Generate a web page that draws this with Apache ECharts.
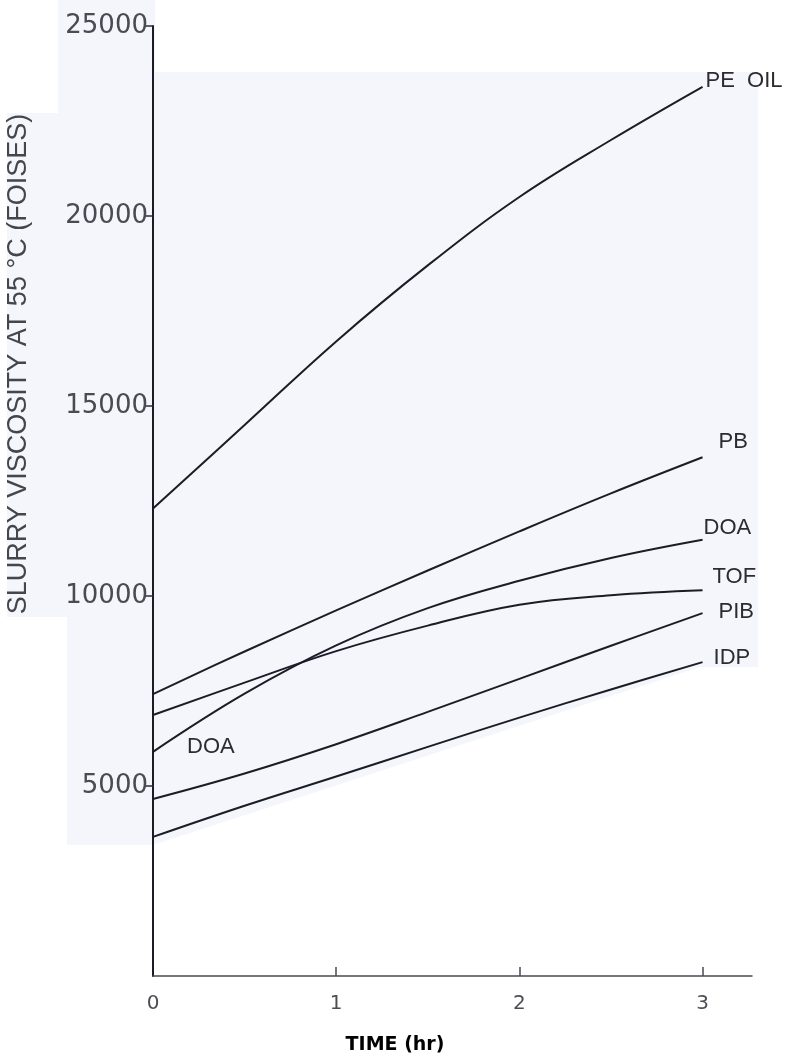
<!DOCTYPE html>
<html>
<head>
<meta charset="utf-8">
<script src="https://cdn.jsdelivr.net/npm/echarts@6/dist/echarts.min.js"></script>
<style>
  html, body { margin: 0; padding: 0; background: #ffffff; }
  #chart { width: 792px; height: 1060px; }
</style>
</head>
<body>
<div id="chart"></div>
<script>
// ---- data ----
const times = [0, 0.5, 1, 1.5, 2, 2.5, 3];
const peOil = [12300, 14500, 16700, 18700, 20500, 22000, 23400];
const pb    = [7420, 8540, 9620, 10670, 11700, 12700, 13650];
const doa   = [5900, 7430, 8700, 9680, 10400, 11000, 11480];
const tof   = [6870, 7720, 8550, 9220, 9770, 10020, 10150];
const pib   = [4660, 5330, 6100, 6950, 7820, 8690, 9550];
const idp   = [3660, 4480, 5250, 6030, 6800, 7540, 8260];
const seriesNames = ['PE  OIL', 'PB', 'DOA', 'TOF', 'PIB', 'IDP'];
const seriesValues = [peOil, pb, doa, tof, pib, idp];
const yTickValues = [5000, 10000, 15000, 20000, 25000];
const xLabelValues = [0, 1, 2, 3];
const xTickValues = [1, 2, 3];
const yTitle = 'SLURRY VISCOSITY AT 55 \u00B0C (FOISES)';
const xTitle = 'TIME (hr)';
const innerLabel = 'DOA';

// label placement (styling only)
const labelOffsets = [[3, -6], [16, -15], [1, -12], [10, -13], [16, -1], [11, -4]];

const lineColor = '#1c1c26';

const series = seriesNames.map((name, si) => ({
  name: name,
  type: 'line',
  smooth: 0.4,
  symbol: 'none',
  lineStyle: { color: lineColor, width: 2 },
  endLabel: {
    show: true,
    distance: 0,
    offset: labelOffsets[si],
    formatter: name,
    fontFamily: 'Liberation Sans',
    fontSize: 22,
    color: '#2c2c30'
  },
  data: times.map((t, i) => [t, seriesValues[si][i]]),
  z: 3
}));

const chart = echarts.init(document.getElementById('chart'), null, { renderer: 'canvas' });
chart.setOption({
  animation: false,
  backgroundColor: '#ffffff',
  grid: { left: 153, top: 26, width: 599, height: 950, containLabel: false },
  xAxis: {
    type: 'value',
    min: 0,
    max: 3.27,
    interval: 1,
    axisLine: { show: true, onZero: false, lineStyle: { color: '#4a4a52', width: 1.5 } },
    axisTick: { show: true, inside: true, length: 9, customValues: xTickValues, lineStyle: { color: '#4a4a52', width: 1.5 } },
    axisLabel: { show: true, customValues: xLabelValues, margin: 18, fontFamily: 'DejaVu Sans', fontSize: 20, color: '#4d4d55' },
    splitLine: { show: false }
  },
  yAxis: {
    type: 'value',
    min: 0,
    max: 25000,
    interval: 5000,
    axisLine: { show: true, onZero: false, lineStyle: { color: '#1c1c26', width: 2 } },
    axisTick: { show: true, inside: false, length: 9, customValues: yTickValues, lineStyle: { color: '#2c2c34', width: 1.5 } },
    axisLabel: {
      show: true, customValues: yTickValues, margin: 5,
      formatter: (v) => String(v),
      fontFamily: 'DejaVu Sans', fontSize: 26, color: '#4a4a52', padding: [0, 0, 12, 0]
    },
    splitLine: { show: false }
  },
  graphic: [
    {
      type: 'polygon',
      z: -10,
      silent: true,
      shape: { points: [[58, 0], [155, 0], [155, 72], [758, 72], [758, 667], [700, 667], [153, 845], [67, 845], [67, 617], [7, 617], [7, 113], [58, 113]] },
      style: { fill: '#f4f6fc' }
    },
    {
      type: 'text',
      x: 19,
      y: 364,
      rotation: Math.PI / 2,
      style: {
        text: yTitle,
        fontFamily: 'Liberation Sans',
        fontSize: 27,
        fill: '#45454d',
        align: 'center',
        verticalAlign: 'middle'
      }
    },
    {
      type: 'text',
      x: 395,
      y: 1045,
      style: {
        text: xTitle,
        fontFamily: 'DejaVu Sans',
        fontSize: 19,
        fontWeight: 'bold',
        fill: '#000000',
        align: 'center',
        verticalAlign: 'middle'
      }
    },
    {
      type: 'text',
      x: 187,
      y: 747,
      style: {
        text: innerLabel,
        fontFamily: 'Liberation Sans',
        fontSize: 22,
        fill: '#2c2c30',
        align: 'left',
        verticalAlign: 'middle'
      }
    }
  ],
  series: series
});
</script>
</body>
</html>
